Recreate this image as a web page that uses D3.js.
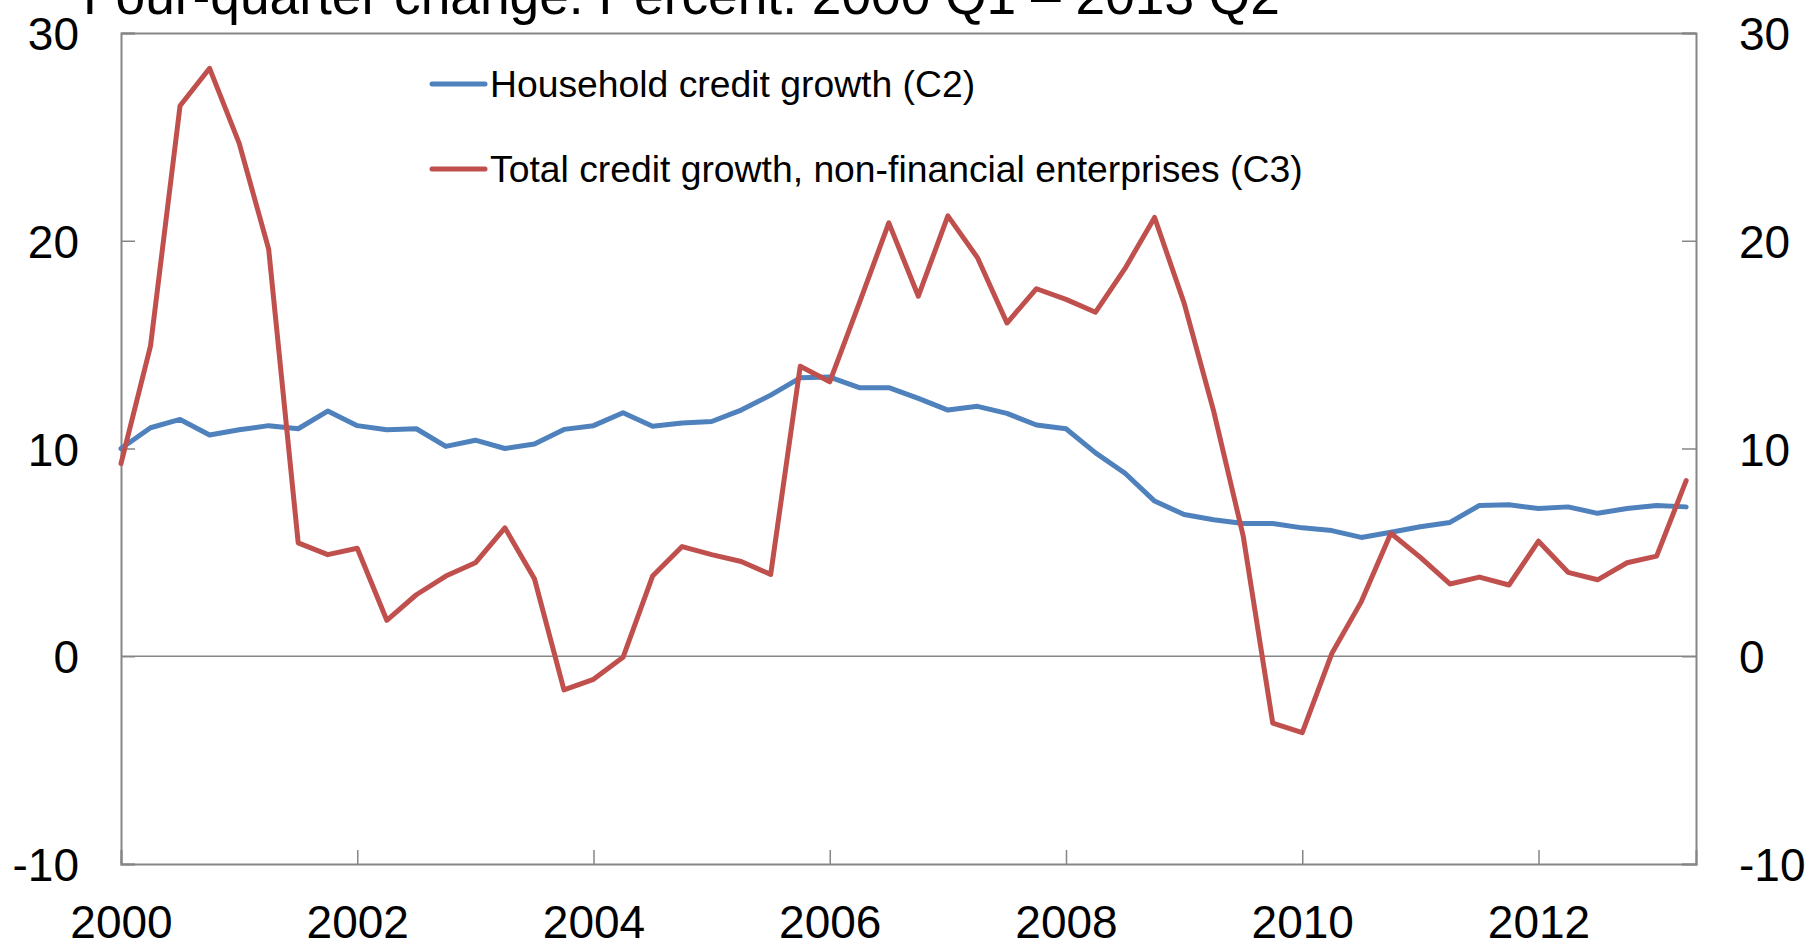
<!DOCTYPE html>
<html>
<head>
<meta charset="utf-8">
<script src="https://cdn.jsdelivr.net/npm/d3@7"></script>
<style>
  html, body { margin: 0; padding: 0; background: #fff; }
  svg { display: block; }
  text { font-family: "Liberation Sans", Arial, sans-serif; fill: #000; }
</style>
</head>
<body>
<svg id="chart" width="1812" height="943"></svg>
<script>
// Quarterly observations, 2000 Q1 to 2013 Q2 (four-quarter change, percent)
const startYear = 2000;
const household = [
  10.0, 11.0, 11.4, 10.65, 10.9, 11.1, 10.95, 11.8, 11.1, 10.9, 10.95, 10.1, 10.4, 10.0,
  10.22, 10.92, 11.1, 11.72, 11.07, 11.23, 11.3, 11.85, 12.57, 13.4, 13.44, 12.93, 12.93,
  12.41, 11.85, 12.03, 11.69, 11.13, 10.95, 9.79, 8.81, 7.47, 6.82, 6.57, 6.39, 6.39,
  6.18, 6.05, 5.72, 5.97, 6.23, 6.44, 7.26, 7.29, 7.11, 7.19, 6.88, 7.11, 7.26, 7.19
];
const enterprises = [
  9.27, 14.94, 26.5, 28.3, 24.7, 19.6, 5.46, 4.89, 5.2, 1.73, 2.96, 3.86, 4.5, 6.18,
  3.73, -1.62, -1.11, -0.05, 3.86, 5.28, 4.89, 4.56, 3.94, 13.96, 13.21, 17.0, 20.86,
  17.33, 21.2, 19.19, 16.04, 17.69, 17.18, 16.56, 18.67, 21.12, 17.0, 11.8, 5.79, -3.22,
  -3.68, 0.13, 2.63, 5.92, 4.76, 3.48, 3.81, 3.43, 5.54, 4.04, 3.68, 4.5, 4.82, 8.45
];
const yTicks = [-10, 0, 10, 20, 30];
const xTicks = [2000, 2002, 2004, 2006, 2008, 2010, 2012];
const seriesNames = [
  "Household credit growth (C2)",
  "Total credit growth, non-financial enterprises (C3)"
];
const titleText = "Four-quarter change. Percent. 2000 Q1 \u2013 2013 Q2";

const colors = ["#4F81BD", "#C0504D"];
const axisGrey = "#868686";

const svg = d3.select("#chart");
const plot = { left: 121, right: 1696, top: 33, bottom: 864 };

const x = d3.scaleLinear().domain([2000, 2013 + 1 / 3]).range([plot.left, plot.right]);
const y = d3.scaleLinear().domain([-10, 30]).range([plot.bottom, plot.top]);

// Plain hyphen-minus for negative labels
const fmt = d => String(d);

// Title (sits partly above the drawing area)
svg.append("text")
  .attr("x", 83).attr("y", 14)
  .attr("font-size", 53.3)
  .text(titleText);

// Zero line
svg.append("line")
  .attr("x1", plot.left).attr("x2", plot.right)
  .attr("y1", y(0)).attr("y2", y(0))
  .attr("stroke", axisGrey).attr("stroke-width", 1.5);

// Left axis: inward ticks, labels outside
const leftAxis = d3.axisLeft(y).tickValues(yTicks).tickSize(-14).tickPadding(42).tickFormat(fmt);
const gL = svg.append("g").attr("transform", `translate(${plot.left},0)`).call(leftAxis);

// Right axis
const rightAxis = d3.axisRight(y).tickValues(yTicks).tickSize(-14).tickPadding(43).tickFormat(fmt);
const gR = svg.append("g").attr("transform", `translate(${plot.right},0)`).call(rightAxis);

// Bottom axis
const bottomAxis = d3.axisBottom(x).tickValues(xTicks).tickSize(-14).tickPadding(74).tickFormat(fmt);
const gB = svg.append("g").attr("transform", `translate(0,${plot.bottom})`).call(bottomAxis);

// Top frame
const topAxis = d3.axisTop(x).tickValues([]).tickSize(0);
const gT = svg.append("g").attr("transform", `translate(0,${plot.top})`).call(topAxis);

[gL, gR, gB, gT].forEach(g => {
  g.select(".domain").attr("stroke", axisGrey).attr("stroke-width", 2);
  g.selectAll(".tick line").attr("stroke", axisGrey).attr("stroke-width", 1.5);
  g.selectAll(".tick text")
    .attr("font-family", '"Liberation Sans", Arial, sans-serif')
    .attr("font-size", 46)
    .attr("fill", "#000");
});
gB.selectAll(".tick text").attr("dy", "0em");
gL.selectAll(".tick text").attr("dy", "0.36em");
gR.selectAll(".tick text").attr("dy", "0.36em");

// Series lines
const line = d3.line()
  .x((d, i) => x(startYear + i / 4))
  .y(d => y(d));

[household, enterprises].forEach((vals, k) => {
  svg.append("path")
    .datum(vals)
    .attr("fill", "none")
    .attr("stroke", colors[k])
    .attr("stroke-width", 5)
    .attr("stroke-linejoin", "round")
    .attr("stroke-linecap", "round")
    .attr("d", line);
});

// Legend
const legendY = [84, 169];
seriesNames.forEach((name, k) => {
  svg.append("line")
    .attr("x1", 432).attr("x2", 485)
    .attr("y1", legendY[k]).attr("y2", legendY[k])
    .attr("stroke", colors[k]).attr("stroke-width", 5)
    .attr("stroke-linecap", "round");
  svg.append("text")
    .attr("x", 490).attr("y", legendY[k] + 13)
    .attr("font-size", 37.3)
    .text(name);
});
</script>
</body>
</html>
